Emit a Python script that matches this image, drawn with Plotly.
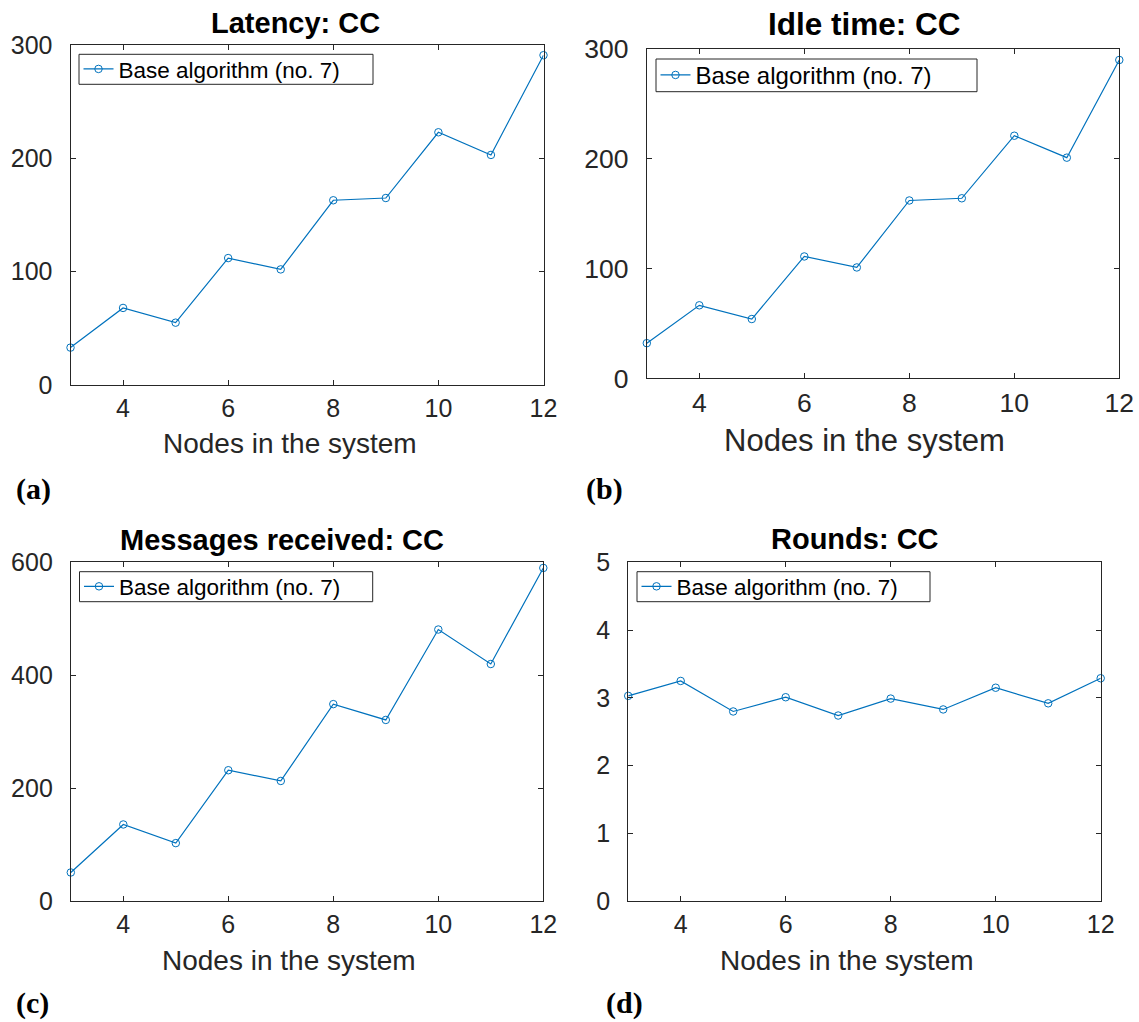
import plotly.graph_objects as go

# Measurements for the CC configuration, base algorithm (no. 7)
nodes = [3, 4, 5, 6, 7, 8, 9, 10, 11, 12]
latency = [33, 68, 55, 112, 102, 163, 165, 223, 203, 291]
idle_time = [32, 66.5, 54, 111, 101, 162, 164, 221, 201, 290]
messages = [51, 136, 103, 232, 213, 349, 321, 481, 420, 590]
rounds = [3.03, 3.25, 2.80, 3.01, 2.74, 2.99, 2.83, 3.15, 2.92, 3.29]

x_ticks = [4, 6, 8, 10, 12]
series_name = "Base algorithm (no. 7)"
x_label = "Nodes in the system"

W, H = 1139, 1022
BLUE = "#0072BD"
AX = "#262626"

# panel layout in pixels: axes box, legend box, text anchors and font sizes
panels = [
    dict(y=latency, title="Latency: CC", tag="(a)", yr=[0, 300], yt=[0, 100, 200, 300],
         box=(70.5, 543.5, 45, 385), leg=(79, 373, 54.3, 84.3),
         tpos=(295, 23), tfs=29, lpos=(289.6, 443), lfs=28, tagpos=(33, 489),
         tickfs=25, legfs=22.5),
    dict(y=idle_time, title="Idle time: CC", tag="(b)", yr=[0, 300], yt=[0, 100, 200, 300],
         box=(646.8, 1119.3, 49, 378.3), leg=(656, 977, 59, 91.7),
         tpos=(864.5, 24), tfs=31.5, lpos=(864, 440.5), lfs=31, tagpos=(604.7, 489),
         tickfs=26.5, legfs=24),
    dict(y=messages, title="Messages received: CC", tag="(c)", yr=[0, 600], yt=[0, 200, 400, 600],
         box=(70.8, 543.3, 562.3, 901.3), leg=(79.5, 372.7, 571.7, 601.7),
         tpos=(281.7, 539.7), tfs=29, lpos=(289, 960), lfs=28, tagpos=(32.5, 1003),
         tickfs=25, legfs=22.5),
    dict(y=rounds, title="Rounds: CC", tag="(d)", yr=[0, 5], yt=[0, 1, 2, 3, 4, 5],
         box=(628.2, 1100.7, 562.3, 901.3), leg=(637, 930, 571.7, 601.7),
         tpos=(855, 539.2), tfs=29, lpos=(847, 960), lfs=28, tagpos=(624.7, 1003),
         tickfs=25, legfs=22.5),
]


def px(x):
    return x / W


def py(y):
    return 1 - y / H


fig = go.Figure()
annotations = []
shapes = []
layout = {}

for i, p in enumerate(panels, start=1):
    sfx = "" if i == 1 else str(i)
    legname = "legend" + sfx
    fig.add_trace(go.Scatter(
        x=nodes, y=p["y"], mode="lines+markers", name=series_name,
        line=dict(color=BLUE, width=1.2),
        marker=dict(symbol="circle-open", size=7.5, color=BLUE, line=dict(width=1, color=BLUE)),
        xaxis="x" + sfx, yaxis="y" + sfx, legend=legname, showlegend=True,
        cliponaxis=False,
    ))
    x0, x1, y0, y1 = p["box"]
    common = dict(showline=True, linecolor=AX, linewidth=1, mirror="ticks",
                  ticks="inside", ticklen=5, tickcolor=AX, tickwidth=1,
                  showgrid=False, zeroline=False, automargin=False,
                  tickfont=dict(family="Liberation Sans, Arial, sans-serif",
                                size=p["tickfs"], color=AX))
    layout["xaxis" + sfx] = dict(domain=[px(x0), px(x1)], range=[3, 12],
                                 tickvals=x_ticks, anchor="y" + sfx,
                                 ticklabelstandoff=1, **common)
    layout["yaxis" + sfx] = dict(domain=[py(y1), py(y0)], range=p["yr"],
                                 tickvals=p["yt"], anchor="x" + sfx,
                                 ticklabelstandoff=12, **common)

    lx0, lx1, ly0, ly1 = p["leg"]
    shapes.append(dict(type="rect", xref="paper", yref="paper",
                       x0=px(lx0), x1=px(lx1), y0=py(ly1), y1=py(ly0),
                       line=dict(color=AX, width=1), fillcolor="white", layer="above"))
    layout[legname] = dict(x=px(lx0 - 0.5), y=py((ly0 + ly1) / 2),
                           xanchor="left", yanchor="middle",
                           bgcolor="rgba(0,0,0,0)", borderwidth=0,
                           font=dict(family="Liberation Sans, Arial, sans-serif",
                                     size=p["legfs"], color="black"))

    annotations.append(dict(text="<b>%s</b>" % p["title"], x=px(p["tpos"][0]), y=py(p["tpos"][1]),
                            xref="paper", yref="paper", showarrow=False,
                            xanchor="center", yanchor="middle",
                            font=dict(family="Liberation Sans, Arial, sans-serif",
                                      size=p["tfs"], color="black")))
    annotations.append(dict(text=x_label, x=px(p["lpos"][0]), y=py(p["lpos"][1]),
                            xref="paper", yref="paper", showarrow=False,
                            xanchor="center", yanchor="middle",
                            font=dict(family="Liberation Sans, Arial, sans-serif",
                                      size=p["lfs"], color=AX)))
    annotations.append(dict(text="<b>%s</b>" % p["tag"], x=px(p["tagpos"][0]), y=py(p["tagpos"][1]),
                            xref="paper", yref="paper", showarrow=False,
                            xanchor="center", yanchor="middle", borderpad=0,
                            font=dict(family="Liberation Serif, Times New Roman, serif",
                                      size=30, color="black")))

fig.update_layout(
    width=W, height=H,
    margin=dict(l=0, r=0, t=0, b=0, pad=0, autoexpand=False),
    paper_bgcolor="white", plot_bgcolor="white",
    annotations=annotations, shapes=shapes,
    **layout,
)

fig.write_html("out.html")
